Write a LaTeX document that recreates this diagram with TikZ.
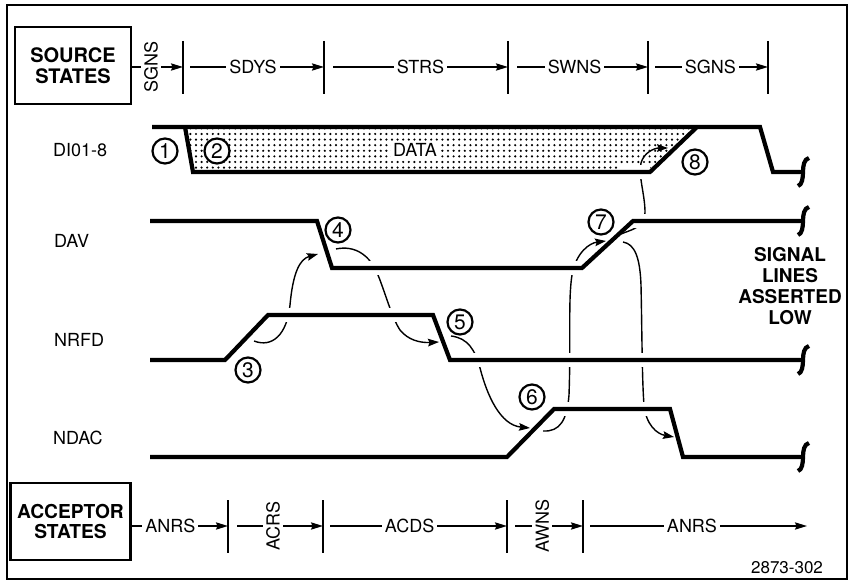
\documentclass[tikz,border=0pt]{standalone}
\usepackage{fontspec}
\setmainfont{TeX Gyre Heros}
\usepackage{tikz}
\usetikzlibrary{arrows.meta, patterns, calc}

% coarse dot screen for the valid data
\pgfdeclarepatternformonly{datadots}{\pgfpoint{-1pt}{-1pt}}{\pgfpoint{1.8pt}{1.8pt}}{\pgfpoint{2.8pt}{2.8pt}}
  {\pgfpathcircle{\pgfpointorigin}{0.6pt}\pgfusepath{fill}}

% break mark at the open end of a signal line
\newcommand{\sigend}[1]{%
  \draw[sig] ([shift={(-5,14)}]#1) .. controls ([shift={(-1,13)}]#1) and ([shift={(0,6)}]#1) .. (#1)
    .. controls ([shift={(0,-6)}]#1) and ([shift={(1,-13)}]#1) .. ([shift={(6,-14)}]#1);}

\begin{document}
\begin{tikzpicture}[
    x=0.5pt, y=-0.5pt,
    sig/.style={line width=2.1pt},
    halo/.style={draw=white, line width=7pt},
    cause/.style={line width=0.7pt, -{Stealth[length=5.5pt, width=3.8pt, inset=0.8pt]}},
    stline/.style={line width=0.9pt, -{Stealth[length=6pt, width=3.6pt, inset=0.8pt]}},
    stmark/.style={line width=1pt},
    lbl/.style={fill=white, inner sep=1.5pt, font=\fontsize{9}{10}\selectfont},
    vlbl/.style={lbl, rotate=90},
    sname/.style={anchor=west, font=\fontsize{9}{10}\selectfont},
    num/.style={circle, draw, line width=1.1pt, fill=white, inner sep=0pt,
                minimum size=12.5pt, font=\fontsize{10.5}{11}\selectfont},
    statebox/.style={rectangle, draw, line width=1.4pt, align=center,
                     minimum height=38.5pt, font=\bfseries\fontsize{10}{10.5}\selectfont}
]
\useasboundingbox (0,0) rectangle (851,582);
\draw[line width=1.2pt] (7,5) rectangle (847,579);

% ---- State boxes ----
\node[statebox, minimum width=58pt] (src) at (73,65.5) {SOURCE\\STATES};
\node[statebox, minimum width=57.5pt, font=\bfseries\fontsize{9.6}{10}\selectfont] (acc) at (70.5,521.5) {ACCEPTOR\\STATES};

% ---- Source state line ----
\foreach \n/\x in {t1/183, t2/324, t3/508, t4/648, t5/768} {
  \coordinate (\n) at (\x,67);
  \draw[stmark] (\x,41) -- (\x,94);
}
\draw[stline] (src.east |- t1) -- node[vlbl, pos=0.37]{SGNS} (t1);
\draw[stline] ([xshift=3.5pt]t1) -- node[lbl, pos=0.47]{SDYS} (t2);
\draw[stline] ([xshift=4.5pt]t2) -- node[lbl, pos=0.5]{STRS} (t3);
\draw[stline] ([xshift=4.5pt]t3) -- node[lbl, pos=0.44]{SWNS} (t4);
\draw[stline] ([xshift=3.5pt]t4) -- node[lbl, pos=0.49]{SGNS} (t5);

% ---- Acceptor state line ----
\foreach \n/\x in {a1/228, a2/323, a3/507, a4/583} {
  \coordinate (\n) at (\x,526);
  \draw[stmark] (\x,500) -- (\x,553);
}
\coordinate (aEnd) at (807,526);
\draw[stline] (acc.east |- a1) -- node[lbl, pos=0.4]{ANRS} (a1);
\draw[stline] ([xshift=4.5pt]a1) -- node[vlbl, pos=0.42]{ACRS} (a2);
\draw[stline] ([xshift=3.5pt]a2) -- node[lbl, pos=0.45]{ACDS} (a3);
\draw[stline] ([xshift=4pt]a3) -- node[vlbl, pos=0.4]{AWNS} (a4);
\draw[stline] ([xshift=3.5pt]a4) -- node[lbl, pos=0.47]{ANRS} (aEnd);

% ---- Signal names ----
\node[sname] (dio)  at (46,150) {DI01-8};
\node[sname] (dav)  at (47,241) {DAV};
\node[sname] (nrfd) at (47,340) {NRFD};
\node[sname] (ndac) at (46,438) {NDAC};

% ---- Signal corners ----
\coordinate (dioS) at (152,127); \coordinate (dioF) at (760,127);
\coordinate (dioG) at (773,172); \coordinate (dioE) at (803,172);
\coordinate (dat1) at (185,127); \coordinate (dat2) at (193,172);
\coordinate (dat3) at (650,172); \coordinate (dat4) at (697,127);
\coordinate (davS) at (150,221); \coordinate (dav1) at (317,221);
\coordinate (dav2) at (332,268); \coordinate (dav3) at (582,268);
\coordinate (dav4) at (633,221); \coordinate (davE) at (803,221);
\coordinate (nrfdS) at (150,360); \coordinate (nrfd1) at (225,360);
\coordinate (nrfd2) at (268,315); \coordinate (nrfd3) at (433,315);
\coordinate (nrfd4) at (450,360); \coordinate (nrfdE) at (803,360);
\coordinate (ndacS) at (150,457); \coordinate (ndac1) at (507,457);
\coordinate (ndac2) at (554,409); \coordinate (ndac3) at (670,409);
\coordinate (ndac4) at (683,457); \coordinate (ndacE) at (803,457);

% ---- Data valid ----
\fill[pattern=datadots] (dat1) -- (dat2) -- (dat3) -- (dat4) -- cycle;

% ---- Handshake sequence ----
\coordinate (from3) at (254,341);  \coordinate (to4) at (318,254);
\coordinate (from4) at (336,249);  \coordinate (to5) at (439,342);
\coordinate (from5) at (451,336);  \coordinate (to6) at (530,428);
\coordinate (from6) at (543,431);  \coordinate (to7) at (606,241);
\coordinate (from7a) at (623,242); \coordinate (toNdac) at (674,437);
\coordinate (from7b) at (621,234); \coordinate (to8) at (668,148);
\draw[cause] (from3) .. controls (272,348) and (287,335) .. (290,305)
             .. controls (293,272) and (300,259) .. (to4);
\draw[cause] (from4) .. controls (355,245) and (370,255) .. (378,275)
             .. controls (386,295) and (392,318) .. (400,330)
             .. controls (408,340) and (420,343) .. (to5);
\draw[cause] (from5) .. controls (468,338) and (475,350) .. (480,368)
             .. controls (487,395) and (500,425) .. (to6);
\draw[cause] (from6) .. controls (560,432) and (567,420) .. (569,395)
             .. controls (571,340) and (568,300) .. (572,275)
             .. controls (576,252) and (590,243) .. (to7);
\draw[cause] (from7a) .. controls (635,244) and (640,258) .. (641,285)
             .. controls (642,330) and (642,380) .. (644,405)
             .. controls (646,425) and (657,434) .. (toNdac);
\draw[cause] (from7b) .. controls (630,230) and (645,228) .. (645,212)
             .. controls (645,195) and (638,175) .. (641,163)
             .. controls (644,152) and (655,148) .. (to8);

% ---- Gaps where the handshake lines cross ----
\draw[halo] (dav2) -- (dav3);
\draw[halo] (dav4) -- (davE);
\draw[halo] (nrfd2) -- (nrfd3);
\draw[halo] (nrfd4) -- (nrfdE);
\draw[halo] (ndac2) -- (ndac3);
\draw[halo] ([xshift=-15pt]dat3) -- (dat3);

% ---- Signal lines ----
\draw[sig] (dioS) -- (dioF) -- (dioG) -- (dioE);
\draw[sig] (dat1) -- (dat2) -- (dat3) -- (dat4);
\draw[sig] (davS) -- (dav1) -- (dav2) -- (dav3) -- (dav4) -- (davE);
\draw[sig] (nrfdS) -- (nrfd1) -- (nrfd2) -- (nrfd3) -- (nrfd4) -- (nrfdE);
\draw[sig] (ndacS) -- (ndac1) -- (ndac2) -- (ndac3) -- (ndac4) -- (ndacE);
\sigend{dioE}
\sigend{davE}
\sigend{nrfdE}
\sigend{ndacE}

% ---- Labels ----
\node[lbl, inner sep=0.8pt] (data) at (415,150) {DATA};
\node[num] (n1) at (165,151) {1};
\node[num] (n2) at (217,151) {2};
\node[num] (n3) at (248,370) {3};
\node[num] (n4) at (338,230) {4};
\node[num] (n5) at (460,322) {5};
\node[num] (n6) at (532,397) {6};
\node[num] (n7) at (601,222) {7};
\node[num] (n8) at (695,162) {8};
\node[align=center, font=\bfseries\fontsize{9.5}{10.5}\selectfont] (note) at (790,286.5) {SIGNAL\\LINES\\ASSERTED\\LOW};
\node[font=\fontsize{8.5}{10}\selectfont] (fig) at (787,568) {2873-302};

\end{tikzpicture}
\end{document}
